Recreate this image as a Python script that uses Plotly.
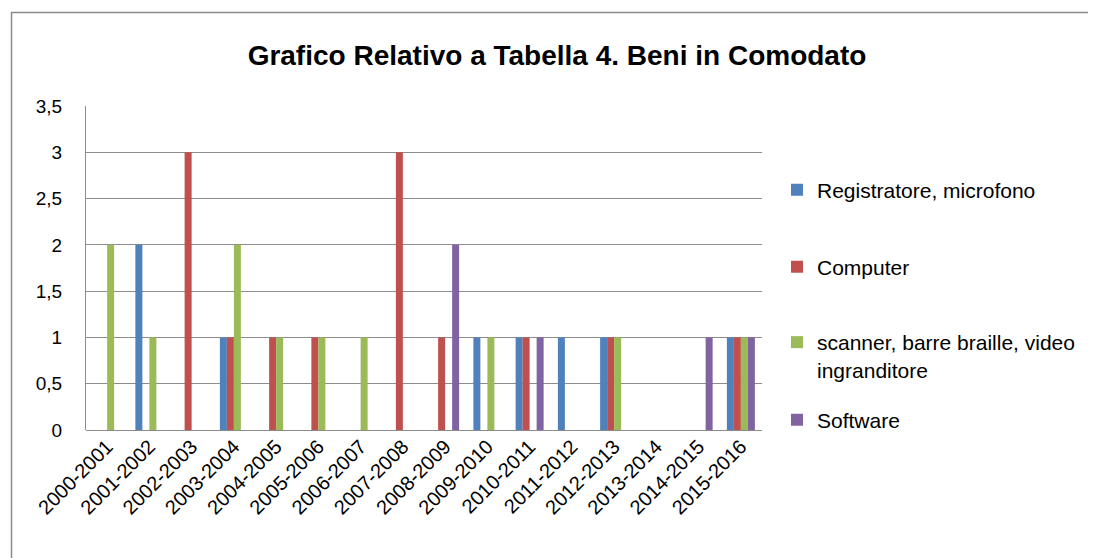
import plotly.graph_objects as go

categories = ["2000-2001", "2001-2002", "2002-2003", "2003-2004", "2004-2005",
              "2005-2006", "2006-2007", "2007-2008", "2008-2009", "2009-2010",
              "2010-2011", "2011-2012", "2012-2013", "2013-2014", "2014-2015",
              "2015-2016"]

registratore = [None, 2, None, 1, None, None, None, None, None, 1, 1, 1, 1, None, None, 1]
computer = [None, None, 3, 1, 1, 1, None, 3, 1, None, 1, None, 1, None, None, 1]
scanner = [2, 1, None, 2, 1, 1, 1, None, None, 1, None, None, 1, None, None, 1]
software = [None, None, None, None, None, None, None, None, 2, None, 1, None, None, None, 1, 1]

series_names = ["Registratore, microfono", "Computer",
                "scanner, barre braille, video<br>ingranditore", "Software"]
series_values = [registratore, computer, scanner, software]
colors = ["#4F81BD", "#C0504D", "#9BBB59", "#8064A2"]

y_ticks = [0, 0.5, 1, 1.5, 2, 2.5, 3, 3.5]

FONT = "Liberation Sans"
OFF = 8  # page body margin

# positions in page pixels
L, R, T, B = 86 - OFF, 762 - OFF, 106 - OFF, 430 - OFF
W, H = 1096, 558
pw, ph = R - L, B - T


def px_x(p):
    return (p - OFF - L) / pw


def px_y(p):
    return (B - (p - OFF)) / ph


legend_ids = ["legend", "legend2", "legend3", "legend4"]
legend_y = [190, 267, 338, 420]

fig = go.Figure()
for name, vals, col, lid in zip(series_names, series_values, colors, legend_ids):
    fig.add_trace(go.Bar(x=categories, y=vals, name=name, marker_color=col,
                         marker_line_width=0, legend=lid, showlegend=True))

legend_common = dict(font=dict(family=FONT, size=21, color="#000000"),
                     itemwidth=30, valign="top", bgcolor="rgba(0,0,0,0)",
                     xanchor="left", x=px_x(777), visible=True)
legends = {}
for i, (lid, ly) in enumerate(zip(legend_ids, legend_y)):
    if i == 2:
        legends[lid] = dict(legend_common, y=px_y(ly - 16), yanchor="top")
    else:
        legends[lid] = dict(legend_common, y=px_y(ly), yanchor="middle")

fig.update_layout(
    width=W, height=H,
    showlegend=True,
    margin=dict(l=L, r=W - R, t=T, b=H - B, pad=0),
    paper_bgcolor="white", plot_bgcolor="white",
    separators=", ",
    barmode="group", bargap=0.337, bargroupgap=0,
    font=dict(family=FONT, color="#000000", size=19),
    title=dict(text="<b>Grafico Relativo a Tabella 4. Beni in Comodato</b>",
               x=(557 - OFF) / W, xanchor="center", y=1 - (55 - OFF) / H,
               yanchor="middle",
               font=dict(family=FONT, size=28, color="#000000")),
    xaxis=dict(tickangle=-45, showgrid=False, showline=False, ticks="",
               tickfont=dict(family=FONT, size=20, color="#000000"),
               fixedrange=True),
    yaxis=dict(range=[0, 3.5], tickvals=y_ticks, showgrid=True,
               gridcolor="#8C8C8C", gridwidth=1, showline=True,
               linecolor="#8C8C8C", linewidth=1, ticks="",
               ticklabelstandoff=19, zeroline=True, zerolinecolor="#8C8C8C",
               zerolinewidth=1,
               tickfont=dict(family=FONT, size=19, color="#000000"),
               fixedrange=True),
    hovermode=False,
    shapes=[dict(type="rect", xref="paper", yref="paper",
                 x0=px_x(11.5), x1=px_x(1120), y0=px_y(12.5), y1=px_y(590),
                 line=dict(color="#8C8C8C", width=1.5), layer="below")],
    **legends,
)

fig.write_html("out.html")
